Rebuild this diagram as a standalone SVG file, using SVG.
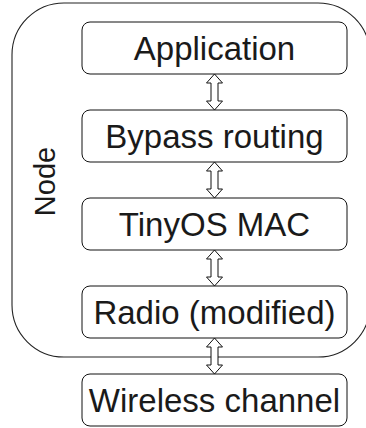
<svg xmlns="http://www.w3.org/2000/svg" width="366" height="428" viewBox="0 0 366 428">
<style>
.box{fill:#fff;stroke:#111;stroke-width:1}
.lbl{font-family:"Liberation Sans",Arial,sans-serif;font-size:33px;fill:#1a1a1a;text-anchor:middle}
.node{font-size:29px}
.arr{fill:#fff;stroke:#111;stroke-width:1;stroke-linejoin:miter}
</style>
<defs>
<polygon id="dbl" points="0,0 8,9 3.5,9 3.5,27 8,27 0,36 -8,27 -3.5,27 -3.5,9 -8,9"/>
</defs>
<g id="node-container">
<rect x="12" y="3" width="358" height="354" rx="52" ry="52" fill="none" stroke="#222" stroke-width="1.1"/>
<text class="lbl node" transform="translate(55,181.5) rotate(-90)">Node</text>
</g>
<g id="connectors">
<use href="#dbl" class="arr" x="214.5" y="74"/>
<use href="#dbl" class="arr" x="214.5" y="162"/>
<use href="#dbl" class="arr" x="214.5" y="250"/>
<use href="#dbl" class="arr" x="214.5" y="338"/>
</g>
<g id="application">
<rect class="box" x="82" y="22" width="265" height="52" rx="8"/>
<text class="lbl" x="214.5" y="60">Application</text>
</g>
<g id="bypass-routing">
<rect class="box" x="82" y="110" width="265" height="52" rx="8"/>
<text class="lbl" x="214.5" y="148">Bypass routing</text>
</g>
<g id="tinyos-mac">
<rect class="box" x="82" y="198" width="265" height="52" rx="8"/>
<text class="lbl" x="214.5" y="236">TinyOS MAC</text>
</g>
<g id="radio">
<rect class="box" x="82" y="286" width="265" height="52" rx="8"/>
<text class="lbl" x="214.5" y="324">Radio (modified)</text>
</g>
<g id="wireless-channel">
<rect class="box" x="82" y="374" width="265" height="52" rx="8"/>
<text class="lbl" x="214.5" y="412">Wireless channel</text>
</g>
</svg>
